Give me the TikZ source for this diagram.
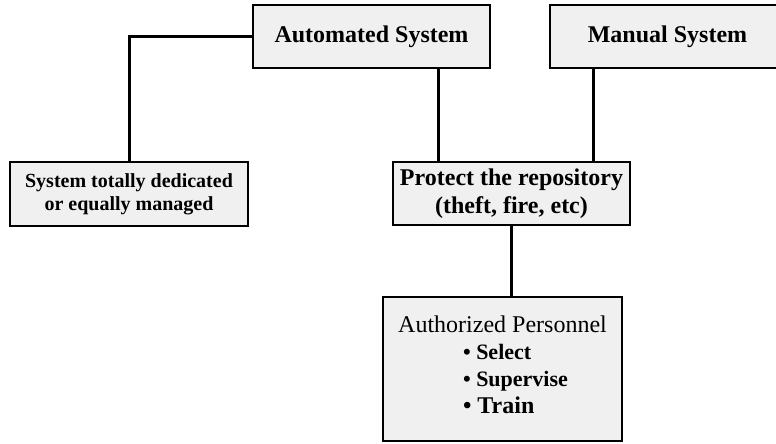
\documentclass[tikz,border=0pt]{standalone}
\usepackage{fontspec}
\setmainfont{Liberation Serif}
\usepackage{tikz}
\usetikzlibrary{positioning}

\begin{document}
\begin{tikzpicture}[x=1pt,y=1pt,
  box/.style={draw=black, line width=2.5pt, fill=gray!12, inner sep=0pt, align=center},
  link/.style={black, line width=3pt}]
\useasboundingbox (0,0) rectangle (776,444);
\node[box, minimum width=237, minimum height=63, font=\fontsize{24}{28}\selectfont\bfseries] (auto) at (371.5,407.5) {Automated System};
\node[box, minimum width=235, minimum height=63, font=\fontsize{24}{28}\selectfont\bfseries] (manual) at (667.5,407.5) {Manual System};
\node[box, minimum width=238, minimum height=64, font=\fontsize{20}{23}\selectfont\bfseries] (dedic) at (129,250) {System totally dedicated\\or equally managed};
\node[box, minimum width=237, minimum height=63, font=\fontsize{24}{28}\selectfont\bfseries] (protect) at (511.5,250.5) {Protect the repository\\(theft, fire, etc)};
\node[box, minimum width=239, minimum height=144, font=\fontsize{24}{27}\selectfont] (auth) at (502.5,75) {Authorized Personnel\\
  \hspace*{26pt}{\bfseries\fontsize{22}{27}\selectfont\begin{tabular}[t]{@{}l@{}}\textbullet\ Select\\ \textbullet\ Supervise\\ {\fontsize{24}{30}\selectfont\textbullet\ Train}\end{tabular}}};
\coordinate (pa) at ([xshift=-73.5pt]protect.north);
\coordinate (pb) at ([xshift=81.5pt]protect.north);
\draw[link] (auto.west) -| (dedic.north);
\draw[link] (pa) -- (pa |- auto.south);
\draw[link] (pb) -- (pb |- manual.south);
\draw[link] (protect.south) -- (protect.south |- auth.north);
\end{tikzpicture}
\end{document}
